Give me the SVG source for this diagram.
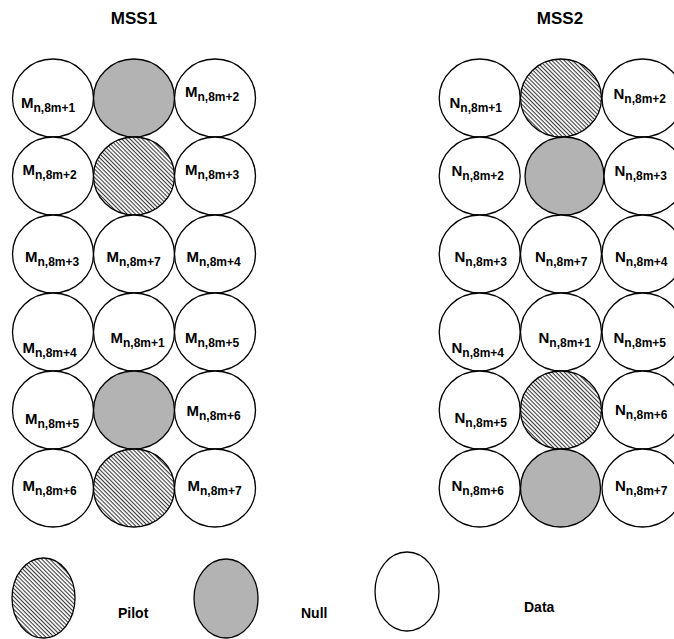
<svg xmlns="http://www.w3.org/2000/svg" width="674" height="639" viewBox="0 0 674 639">
<style>
.c{stroke:#000;stroke-width:1.3}
.d{fill:#fff}
.n{fill:#b3b3b3}
.p{fill:url(#hatch)}
text{font-family:"Liberation Sans",Arial,sans-serif;font-weight:bold;fill:#000}
.t{font-size:17px;text-anchor:middle}
.l{font-size:15px}
.s{font-size:12px}
.g{font-size:14px}
</style>
<defs>
<pattern id="hatch" patternUnits="userSpaceOnUse" width="8" height="2.9" patternTransform="rotate(45)">
<rect width="8" height="2.9" fill="#fff"/>
<line x1="0" y1="0.6" x2="8" y2="0.6" stroke="#000" stroke-width="0.85"/>
</pattern>
</defs>
<text class="t" x="134" y="24">MSS1</text>
<text class="t" x="560" y="24">MSS2</text>

<g id="mss1">
<g id="m-r1c1"><ellipse class="c d" cx="53" cy="98" rx="40.5" ry="39"/><text class="l" x="21" y="107.5">M<tspan class="s" dy="4.3">n,8m+1</tspan></text></g>
<g id="m-r1c2"><ellipse class="c n" cx="134" cy="98" rx="40.5" ry="39"/></g>
<g id="m-r1c3"><ellipse class="c d" cx="215" cy="98" rx="40.5" ry="39"/><text class="l" x="185" y="97">M<tspan class="s" dy="4.3">n,8m+2</tspan></text></g>

<g id="m-r2c1"><ellipse class="c d" cx="53" cy="176" rx="40.5" ry="39"/><text class="l" x="22.5" y="175">M<tspan class="s" dy="4.3">n,8m+2</tspan></text></g>
<g id="m-r2c2"><ellipse class="c p" cx="134" cy="176" rx="40.5" ry="39"/></g>
<g id="m-r2c3"><ellipse class="c d" cx="215" cy="176" rx="40.5" ry="39"/><text class="l" x="185" y="175">M<tspan class="s" dy="4.3">n,8m+3</tspan></text></g>

<g id="m-r3c1"><ellipse class="c d" cx="53" cy="254" rx="40.5" ry="39"/><text class="l" x="25" y="261.5">M<tspan class="s" dy="4.3">n,8m+3</tspan></text></g>
<g id="m-r3c2"><ellipse class="c d" cx="134" cy="254" rx="40.5" ry="39"/><text class="l" x="106.5" y="261.5">M<tspan class="s" dy="4.3">n,8m+7</tspan></text></g>
<g id="m-r3c3"><ellipse class="c d" cx="215" cy="254" rx="40.5" ry="39"/><text class="l" x="186.5" y="261.5">M<tspan class="s" dy="4.3">n,8m+4</tspan></text></g>

<g id="m-r4c1"><ellipse class="c d" cx="53" cy="332" rx="40.5" ry="39"/><text class="l" x="22.5" y="352.5">M<tspan class="s" dy="4.3">n,8m+4</tspan></text></g>
<g id="m-r4c2"><ellipse class="c d" cx="134" cy="332" rx="40.5" ry="39"/><text class="l" x="110.5" y="343">M<tspan class="s" dy="4.3">n,8m+1</tspan></text></g>
<g id="m-r4c3"><ellipse class="c d" cx="215" cy="332" rx="40.5" ry="39"/><text class="l" x="185" y="343">M<tspan class="s" dy="4.3">n,8m+5</tspan></text></g>

<g id="m-r5c1"><ellipse class="c d" cx="53" cy="410" rx="40.5" ry="39"/><text class="l" x="25" y="423.5">M<tspan class="s" dy="4.3">n,8m+5</tspan></text></g>
<g id="m-r5c2"><ellipse class="c n" cx="134" cy="410" rx="40.5" ry="39"/></g>
<g id="m-r5c3"><ellipse class="c d" cx="215" cy="410" rx="40.5" ry="39"/><text class="l" x="186.5" y="415.5">M<tspan class="s" dy="4.3">n,8m+6</tspan></text></g>

<g id="m-r6c1"><ellipse class="c d" cx="53" cy="488" rx="40.5" ry="39"/><text class="l" x="22.5" y="491">M<tspan class="s" dy="4.3">n,8m+6</tspan></text></g>
<g id="m-r6c2"><ellipse class="c p" cx="134" cy="488" rx="40.5" ry="39"/></g>
<g id="m-r6c3"><ellipse class="c d" cx="215" cy="488" rx="40.5" ry="39"/><text class="l" x="187.5" y="491">M<tspan class="s" dy="4.3">n,8m+7</tspan></text></g>
</g>

<g id="mss2">
<g id="n-r1c1"><ellipse class="c d" cx="479.7" cy="98" rx="40.5" ry="39"/><text class="l" x="449.5" y="107.5">N<tspan class="s" dy="4.3">n,8m+1</tspan></text></g>
<g id="n-r1c2"><ellipse class="c p" cx="561" cy="98" rx="40.5" ry="39"/></g>
<g id="n-r1c3"><ellipse class="c d" cx="642.5" cy="98" rx="40.5" ry="39"/><text class="l" x="613.5" y="99">N<tspan class="s" dy="4.3">n,8m+2</tspan></text></g>

<g id="n-r2c1"><ellipse class="c d" cx="479.7" cy="176" rx="40.5" ry="39"/><text class="l" x="451.5" y="175.5">N<tspan class="s" dy="4.3">n,8m+2</tspan></text></g>
<g id="n-r2c2"><ellipse class="c n" cx="564.5" cy="176" rx="39.5" ry="39"/></g>
<g id="n-r2c3"><ellipse class="c d" cx="644.5" cy="176" rx="40.5" ry="39"/><text class="l" x="614.5" y="175.5">N<tspan class="s" dy="4.3">n,8m+3</tspan></text></g>

<g id="n-r3c1"><ellipse class="c d" cx="479.7" cy="254" rx="40.5" ry="39"/><text class="l" x="454.5" y="261.5">N<tspan class="s" dy="4.3">n,8m+3</tspan></text></g>
<g id="n-r3c2"><ellipse class="c d" cx="561" cy="254" rx="40.5" ry="39"/><text class="l" x="535" y="261.5">N<tspan class="s" dy="4.3">n,8m+7</tspan></text></g>
<g id="n-r3c3"><ellipse class="c d" cx="642.5" cy="254" rx="40.5" ry="39"/><text class="l" x="615" y="261.5">N<tspan class="s" dy="4.3">n,8m+4</tspan></text></g>

<g id="n-r4c1"><ellipse class="c d" cx="479.7" cy="332" rx="40.5" ry="39"/><text class="l" x="451.5" y="352.5">N<tspan class="s" dy="4.3">n,8m+4</tspan></text></g>
<g id="n-r4c2"><ellipse class="c d" cx="561" cy="332" rx="40.5" ry="39"/><text class="l" x="538.5" y="343">N<tspan class="s" dy="4.3">n,8m+1</tspan></text></g>
<g id="n-r4c3"><ellipse class="c d" cx="642.5" cy="332" rx="40.5" ry="39"/><text class="l" x="613.5" y="343">N<tspan class="s" dy="4.3">n,8m+5</tspan></text></g>

<g id="n-r5c1"><ellipse class="c d" cx="479.7" cy="410" rx="40.5" ry="39"/><text class="l" x="454.5" y="423">N<tspan class="s" dy="4.3">n,8m+5</tspan></text></g>
<g id="n-r5c2"><ellipse class="c p" cx="561" cy="410" rx="40.5" ry="39"/></g>
<g id="n-r5c3"><ellipse class="c d" cx="642.5" cy="410" rx="40.5" ry="39"/><text class="l" x="615" y="415">N<tspan class="s" dy="4.3">n,8m+6</tspan></text></g>

<g id="n-r6c1"><ellipse class="c d" cx="479.7" cy="488" rx="40.5" ry="39"/><text class="l" x="451.5" y="491">N<tspan class="s" dy="4.3">n,8m+6</tspan></text></g>
<g id="n-r6c2"><ellipse class="c n" cx="560.5" cy="488" rx="40" ry="39"/></g>
<g id="n-r6c3"><ellipse class="c d" cx="642.5" cy="488" rx="40.5" ry="39"/><text class="l" x="615" y="491">N<tspan class="s" dy="4.3">n,8m+7</tspan></text></g>
</g>

<g id="legend">
<g id="leg-pilot"><ellipse class="c p" cx="43.5" cy="598" rx="31.5" ry="40"/><text class="g" x="118" y="618">Pilot</text></g>
<g id="leg-null"><ellipse class="c n" cx="226" cy="598.5" rx="32" ry="39.5"/><text class="g" x="301" y="618">Null</text></g>
<g id="leg-data"><ellipse class="c d" cx="407" cy="591.5" rx="32" ry="39.5"/><text class="g" x="524" y="611.5">Data</text></g>
</g>
</svg>
